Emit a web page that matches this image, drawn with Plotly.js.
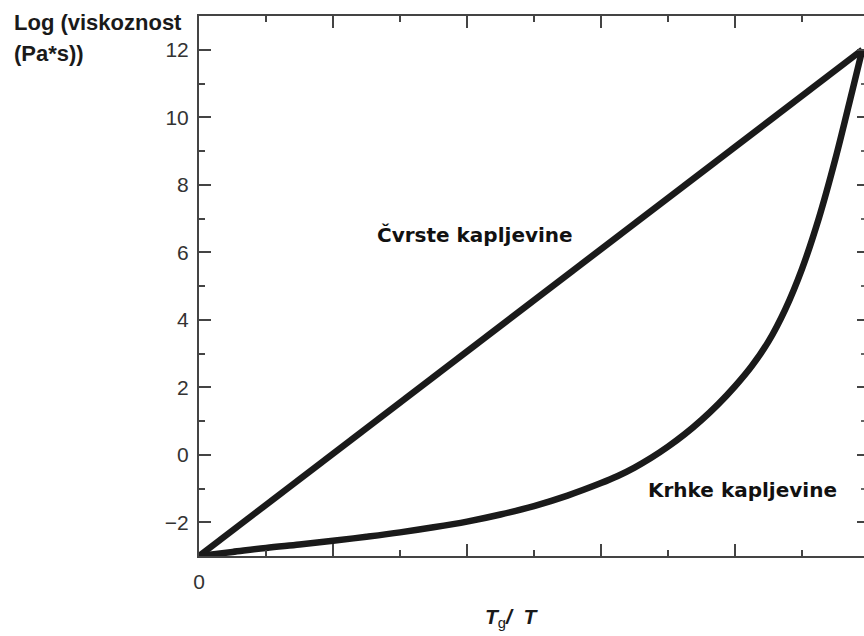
<!DOCTYPE html>
<html>
<head>
<meta charset="utf-8">
<script src="https://cdn.plot.ly/plotly-3.0.1.min.js"></script>
<style>html,body{margin:0;padding:0;background:#fff;}#chart{width:864px;height:636px;}</style>
</head>
<body>
<div id="chart"></div>
<script>
// Strong liquids ("Čvrste kapljevine"): straight line
const strongX = [0, 0.99];
const strongY = [-3, 12];
// Fragile liquids ("Krhke kapljevine"): curved
const fragileX = [0, 0.05, 0.1, 0.15, 0.2, 0.25, 0.3, 0.35, 0.4, 0.45, 0.5, 0.55, 0.6, 0.625, 0.65, 0.675, 0.7, 0.725, 0.75, 0.775, 0.8, 0.825, 0.85, 0.875, 0.9, 0.925, 0.95, 0.975, 0.99];
const fragileY = [-3, -2.88, -2.76, -2.66, -2.55, -2.43, -2.30, -2.15, -1.98, -1.77, -1.52, -1.21, -0.84, -0.63, -0.38, -0.09, 0.24, 0.61, 1.03, 1.50, 2.03, 2.63, 3.36, 4.31, 5.51, 7.0, 8.78, 10.78, 12];
const yTickVals = [-2, 0, 2, 4, 6, 8, 10, 12];
const yTickText = ["\u22122", "0", "2", "4", "6", "8", "10", "12"];
const xTickVals = [0, 0.2, 0.4, 0.6, 0.8];
const xTickText = ["0", "", "", "", ""];

const FONT = 'Liberation Sans, Arial, sans-serif';
const BFONT = 'DejaVu Sans, Verdana, sans-serif';

const traces = [
  {x: strongX, y: strongY, mode: 'lines', line: {color: '#1a1a1a', width: 6.5}, hoverinfo: 'skip'},
  {x: fragileX, y: fragileY, mode: 'lines', line: {color: '#1a1a1a', width: 6.5, shape: 'spline', smoothing: 1}, hoverinfo: 'skip'},
  {x: [0.5], y: [5], yaxis: 'y2', mode: 'markers', marker: {opacity: 0}, hoverinfo: 'skip'}
];

const layout = {
  width: 864, height: 636,
  margin: {l: 199, r: 0, t: 16, b: 80},
  paper_bgcolor: '#fff', plot_bgcolor: '#fff',
  showlegend: false,
  xaxis: {
    range: [0, 0.9925], showgrid: false, zeroline: false, showline: true, linecolor: '#444', linewidth: 2,
    mirror: 'ticks', ticks: 'inside', tickcolor: '#444', tickwidth: 2, ticklen: 12,
    tickvals: xTickVals, ticktext: xTickText, ticklabelstandoff: 6,
    tickfont: {family: FONT, size: 21, color: '#333'},
    minor: {dtick: 0.1, ticks: 'inside', ticklen: 6, tickcolor: '#444', tickwidth: 2}
  },
  yaxis: {
    range: [-3, 13], showgrid: false, zeroline: false, showline: true, linecolor: '#444', linewidth: 2,
    mirror: false, ticks: 'inside', tickcolor: '#444', tickwidth: 2, ticklen: 12,
    tickvals: yTickVals, ticktext: yTickText, ticklabelstandoff: 4,
    tickfont: {family: FONT, size: 21, color: '#333'},
    minor: {dtick: 1, ticks: 'inside', ticklen: 6, tickcolor: '#444', tickwidth: 2}
  },
  yaxis2: {
    overlaying: 'y', side: 'right', range: [-3, 13], showgrid: false, zeroline: false, showline: false,
    ticks: 'inside', tickcolor: '#444', tickwidth: 2, ticklen: 7, tickvals: yTickVals, showticklabels: false,
    minor: {dtick: 1, ticks: 'inside', ticklen: 3, tickcolor: '#666', tickwidth: 2}
  },
  annotations: [
    {xref: 'paper', yref: 'paper', x: (12 - 199) / 665, y: 1 + (16 - 23) / 540, xanchor: 'left', yanchor: 'middle',
     text: '<b>Log (viskoznost</b>', showarrow: false, font: {family: FONT, size: 22, color: '#1a1a1a'}},
    {xref: 'paper', yref: 'paper', x: (12 - 199) / 665, y: 1 + (16 - 53) / 540, xanchor: 'left', yanchor: 'middle',
     text: '<b>(Pa*s))</b>', showarrow: false, font: {family: FONT, size: 22, color: '#1a1a1a'}},
    {xref: 'x', yref: 'y', x: (475 - 199) / 670, y: 6.5, text: '<b>Čvrste kapljevine</b>', showarrow: false,
     font: {family: BFONT, size: 20, color: '#111'}},
    {xref: 'x', yref: 'y', x: (742 - 199) / 670, y: -1.04, text: '<b>Krhke kapljevine</b>', showarrow: false,
     font: {family: BFONT, size: 20, color: '#111'}},
    {xref: 'paper', yref: 'paper', x: (512 - 199) / 665, y: (556 - 618) / 540, xanchor: 'center', yanchor: 'middle',
     text: '<b><i>T</i></b><sub>g</sub><b><i>/&nbsp;&nbsp;T</i></b>', showarrow: false,
     font: {family: FONT, size: 21, color: '#1a1a1a'}}
  ]
};

Plotly.newPlot('chart', traces, layout, {displayModeBar: false, staticPlot: true});
</script>
</body>
</html>
